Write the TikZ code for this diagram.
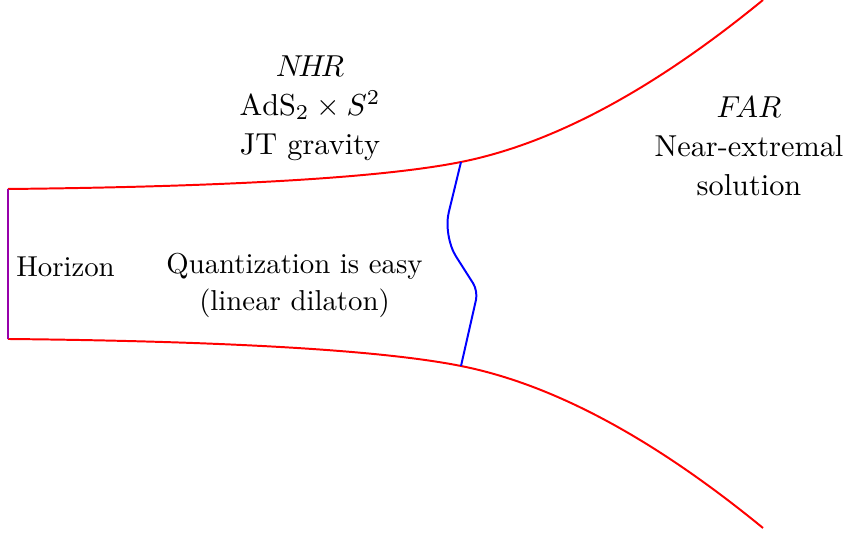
\documentclass[tikz,border=0pt]{standalone}
\begin{document}
\begin{tikzpicture}[x=0.33pt,y=-0.33pt,
  wall/.style={red,line width=0.65pt},
  cut/.style={blue,line width=0.65pt},
  hor/.style={draw={rgb,255:red,150;green,0;blue,170},line width=0.65pt},
  biglabel/.style={align=center,inner sep=0pt,font=\fontsize{10}{12.9}\selectfont},
  smalllabel/.style={align=center,inner sep=0pt,font=\fontsize{9.5}{12.2}\selectfont}]
\useasboundingbox (0,0) rectangle (846,533);
\coordinate (ul) at (8,189);
\coordinate (ll) at (8,339);
\coordinate (um) at (461,162);
\coordinate (lm) at (461,366);
\coordinate (ue) at (763,0);
\coordinate (le) at (763,528);
\coordinate (b1) at (443,236);
\coordinate (b2) at (478,291);
% red walls
\draw[wall] (ul) .. controls (158,187.5) and (361,182) .. (um)
                 .. controls (531,148) and (630,109) .. (ue);
\draw[wall] (ll) .. controls (158,340.5) and (361,346) .. (lm)
                 .. controls (531,380) and (630,419) .. (le);
% horizon
\draw[hor] (ul) -- (ll);
% blue cut
\draw[cut] (um) [rounded corners=8pt] -- (b1) [rounded corners=3pt] -- (b2) [sharp corners] -- (lm);
% labels
\node[biglabel] (nhr) at (310,108) {$N\!H\!R$\\ $\mathrm{AdS}_2\times S^2$\\ JT gravity};
\node[biglabel] (far) at (749,146) {$F\!AR$\\ Near-extremal\\ solution};
\node[smalllabel] (hz) at (65.5,267) {Horizon};
\node[smalllabel] (qe) at (294.5,285) {Quantization is easy\\ (linear dilaton)};
\end{tikzpicture}
\end{document}
